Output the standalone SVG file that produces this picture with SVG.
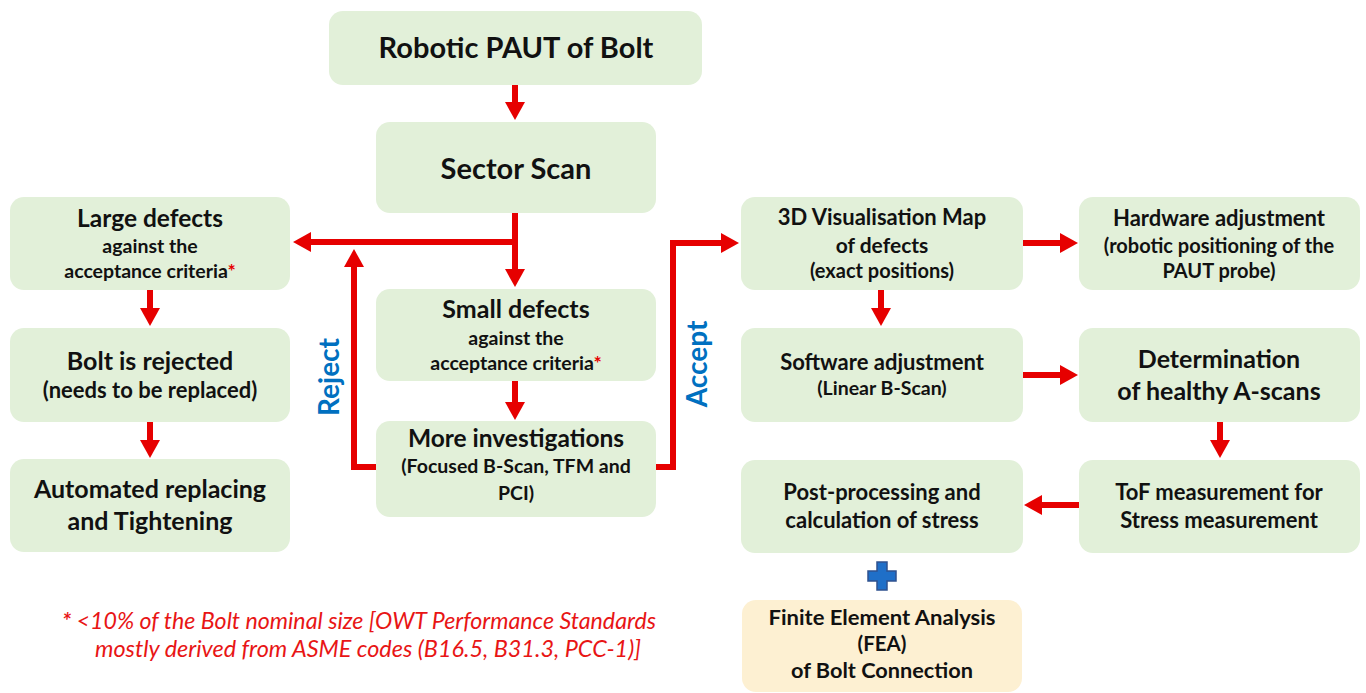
<svg xmlns="http://www.w3.org/2000/svg" width="1366" height="693" viewBox="0 0 1366 693">
<style>
  .box { fill: #E2F0D9; }
  .fea { fill: #FDF0D2; }
  text { font-family: Lato, "Liberation Sans", sans-serif; font-weight: bold; fill: #111; text-anchor: middle; }
  .t29 { font-size: 29px; }
  .t25 { font-size: 25px; }
  .t24 { font-size: 24.5px; }
  .t22 { font-size: 22px; }
  .t21 { font-size: 21px; }
  .t20 { font-size: 20px; }
  .t19 { font-size: 19.5px; }
  .tf { font-size: 20.5px; }
  .star { fill: #E60000; }
  .lbl { fill: #0070C0; font-size: 28px; }
  .note { fill: #E81515; font-size: 22.5px; font-style: italic; font-weight: normal; }
  .conn { fill: none; stroke: #E60000; stroke-width: 6; stroke-linejoin: miter; }
</style>
<defs>
  <marker id="ah" viewBox="0 0 18 20" markerWidth="18" markerHeight="20" refX="1" refY="10" orient="auto" markerUnits="userSpaceOnUse">
    <path d="M0,0 L18,10 L0,20 Z" fill="#E60000"/>
  </marker>
</defs>
<rect width="1366" height="693" fill="#fff"/>

<g id="robotic">
  <rect class="box" x="329" y="11" width="373" height="74" rx="14"/>
  <text class="t29" x="516" y="58">Robotic PAUT of Bolt</text>
</g>
<g id="sector">
  <rect class="box" x="376" y="122" width="280" height="91" rx="14"/>
  <text class="t29" x="516" y="179">Sector Scan</text>
</g>
<g id="large">
  <rect class="box" x="10" y="197" width="280" height="93" rx="14"/>
  <text class="t24" x="150" y="227">Large defects</text>
  <text class="t19" x="150" y="253">against the</text>
  <text class="t19" x="150" y="278">acceptance criteria<tspan class="star">*</tspan></text>
</g>
<g id="rejected">
  <rect class="box" x="10" y="328" width="280" height="94" rx="14"/>
  <text class="t25" x="150" y="370">Bolt is rejected</text>
  <text class="t22" x="150" y="398">(needs to be replaced)</text>
</g>
<g id="automated">
  <rect class="box" x="10" y="459" width="280" height="93" rx="14"/>
  <text class="t25" x="150" y="498">Automated replacing</text>
  <text class="t25" x="150" y="530">and Tightening</text>
</g>
<g id="small">
  <rect class="box" x="376" y="289" width="280" height="92" rx="14"/>
  <text class="t25" x="516" y="318">Small defects</text>
  <text class="t19" x="516" y="345">against the</text>
  <text class="t19" x="516" y="370">acceptance criteria<tspan class="star">*</tspan></text>
</g>
<g id="more">
  <rect class="box" x="376" y="421" width="280" height="96" rx="14"/>
  <text class="t24" x="516" y="447">More investigations</text>
  <text class="t19" x="516" y="473">(Focused B-Scan, TFM and</text>
  <text class="t19" x="516" y="500">PCI)</text>
</g>
<g id="vis3d">
  <rect class="box" x="741" y="197" width="282" height="93" rx="14"/>
  <text class="t22" x="882" y="225">3D Visualisation Map</text>
  <text class="t21" x="882" y="253">of defects</text>
  <text class="t20" x="882" y="278">(exact positions)</text>
</g>
<g id="hardware">
  <rect class="box" x="1079" y="197" width="281" height="93" rx="14"/>
  <text class="t22" x="1219" y="226">Hardware adjustment</text>
  <text class="t20" x="1219" y="253">(robotic positioning of the</text>
  <text class="t20" x="1219" y="278">PAUT probe)</text>
</g>
<g id="software">
  <rect class="box" x="741" y="328" width="282" height="94" rx="14"/>
  <text class="t22" x="882" y="370">Software adjustment</text>
  <text class="t19" x="882" y="395">(Linear B-Scan)</text>
</g>
<g id="determination">
  <rect class="box" x="1079" y="328" width="281" height="94" rx="14"/>
  <text class="t25" x="1219" y="368">Determination</text>
  <text class="t25" x="1219" y="400">of healthy A-scans</text>
</g>
<g id="postproc">
  <rect class="box" x="741" y="460" width="282" height="93" rx="14"/>
  <text class="t22" x="882" y="500">Post-processing and</text>
  <text class="t22" x="882" y="528">calculation of stress</text>
</g>
<g id="tof">
  <rect class="box" x="1079" y="460" width="281" height="93" rx="14"/>
  <text class="t22" x="1219" y="500">ToF measurement for</text>
  <text class="t22" x="1219" y="528">Stress measurement</text>
</g>
<g id="plus">
  <path d="M877,562 H887 V571 H896 V581 H887 V590 H877 V581 H868 V571 H877 Z" fill="#1F6FC8" stroke="#2F528F" stroke-width="1.5"/>
</g>
<g id="fea">
  <rect class="fea" x="742" y="600" width="280" height="92" rx="14"/>
  <text class="tf" x="882" y="625" textLength="227" lengthAdjust="spacingAndGlyphs">Finite Element Analysis</text>
  <text class="tf" x="882" y="651">(FEA)</text>
  <text class="tf" x="882" y="678" textLength="182" lengthAdjust="spacingAndGlyphs">of Bolt Connection</text>
</g>
<g id="footnote">
  <text class="note" x="359" y="629" textLength="594" lengthAdjust="spacingAndGlyphs"><tspan font-weight="bold">*</tspan> &lt;10% of the Bolt nominal size [OWT Performance Standards</text>
  <text class="note" x="368" y="657" textLength="546" lengthAdjust="spacingAndGlyphs">mostly derived from ASME codes (B16.5, B31.3, PCC-1)]</text>
</g>

<g id="connectors">
  <path class="conn" marker-end="url(#ah)" d="M515,85 V103"/>
  <path class="conn" marker-end="url(#ah)" d="M515,213 V270"/>
  <path class="conn" marker-end="url(#ah)" d="M518,242 H310"/>
  <path class="conn" marker-end="url(#ah)" d="M150,290 V309"/>
  <path class="conn" marker-end="url(#ah)" d="M150,422 V441"/>
  <path class="conn" marker-end="url(#ah)" d="M515,381 V403"/>
  <path class="conn" marker-end="url(#ah)" d="M376,467 H354 V266"/>
  <path class="conn" marker-end="url(#ah)" d="M656,467 H673 V243 H722"/>
  <path class="conn" marker-end="url(#ah)" d="M1023,243 H1061"/>
  <path class="conn" marker-end="url(#ah)" d="M881,290 V309"/>
  <path class="conn" marker-end="url(#ah)" d="M1023,375 H1061"/>
  <path class="conn" marker-end="url(#ah)" d="M1220,422 V441"/>
  <path class="conn" marker-end="url(#ah)" d="M1079,505 H1041"/>
  <text class="lbl" transform="translate(339,377) rotate(-90)">Reject</text>
  <text class="lbl" transform="translate(707,364) rotate(-90)">Accept</text>
</g>
</svg>
